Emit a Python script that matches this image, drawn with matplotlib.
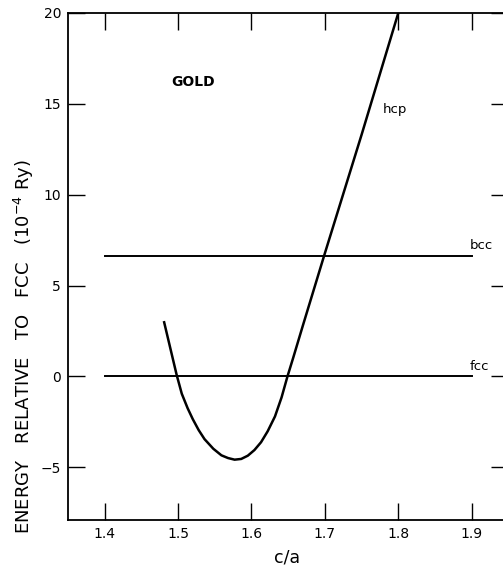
import numpy as np
import matplotlib
matplotlib.use("Agg")
import matplotlib.pyplot as plt

# hcp energy vs c/a
hcp_ca = [1.481, 1.490, 1.498, 1.505, 1.513, 1.520, 1.528, 1.536, 1.548, 1.559, 1.568,
          1.577, 1.586, 1.595, 1.604, 1.613, 1.622, 1.632, 1.641, 1.649, 1.657, 1.670,
          1.699, 1.750, 1.800]
hcp_e = [2.98, 1.45, 0.09, -0.95, -1.75, -2.35, -2.95, -3.45, -3.98, -4.34, -4.49,
         -4.58, -4.54, -4.36, -4.05, -3.62, -3.02, -2.2, -1.15, 0.0, 1.05, 2.8,
         6.65, 13.3, 20.0]

# flat reference lines
ref_ca = [1.4, 1.9]
bcc_e = [6.65, 6.65]
fcc_e = [0.0, 0.0]

xticks = [1.4, 1.5, 1.6, 1.7, 1.8, 1.9]
yticks = [-5, 0, 5, 10, 15, 20]

plt.rcParams['font.family'] = ['DejaVu Sans']

fig = plt.figure(figsize=(5.03, 5.71), dpi=100)
ax = fig.add_axes([0.1352, 0.0893, 0.8755, 0.888])

ax.plot(hcp_ca, hcp_e, color='black', lw=1.8, solid_joinstyle='round')
ax.plot(ref_ca, bcc_e, color='black', lw=1.4)
ax.plot(ref_ca, fcc_e, color='black', lw=1.4)

ax.set_xlim(1.35, 1.95)
ax.set_ylim(-7.9, 20)

ax.set_xticks(xticks)
ax.set_xticklabels(['1.4', '1.5', '1.6', '1.7', '1.8', '1.9'])
ax.set_yticks(yticks)
ax.set_yticklabels(['\u22125', '0', '5', '10', '15', '20'])
ax.tick_params(direction='in', length=12, width=1.0, top=True, right=True,
               labelsize=10, pad=5)

for s in ax.spines.values():
    s.set_linewidth(1.3)

ax.text(1.52, 16.2, 'GOLD', fontsize=10, ha='center', va='center', fontweight='bold')
ax.text(1.779, 14.7, 'hcp', fontsize=9.5, ha='left', va='center')
ax.text(1.897, 7.2, 'bcc', fontsize=9.5, ha='left', va='center')
ax.text(1.897, 0.55, 'fcc', fontsize=9.5, ha='left', va='center')

fig.text(287 / 503, 1 - 557 / 571, 'c/a', fontsize=12.5, ha='center', va='center')
fig.text(24 / 503, 1 - 347 / 571,
         'ENERGY   RELATIVE   TO   FCC   (10$^{-4}$ Ry)',
         fontsize=13, rotation=90, ha='center', va='center')

fig.savefig('out.png', dpi=100)
